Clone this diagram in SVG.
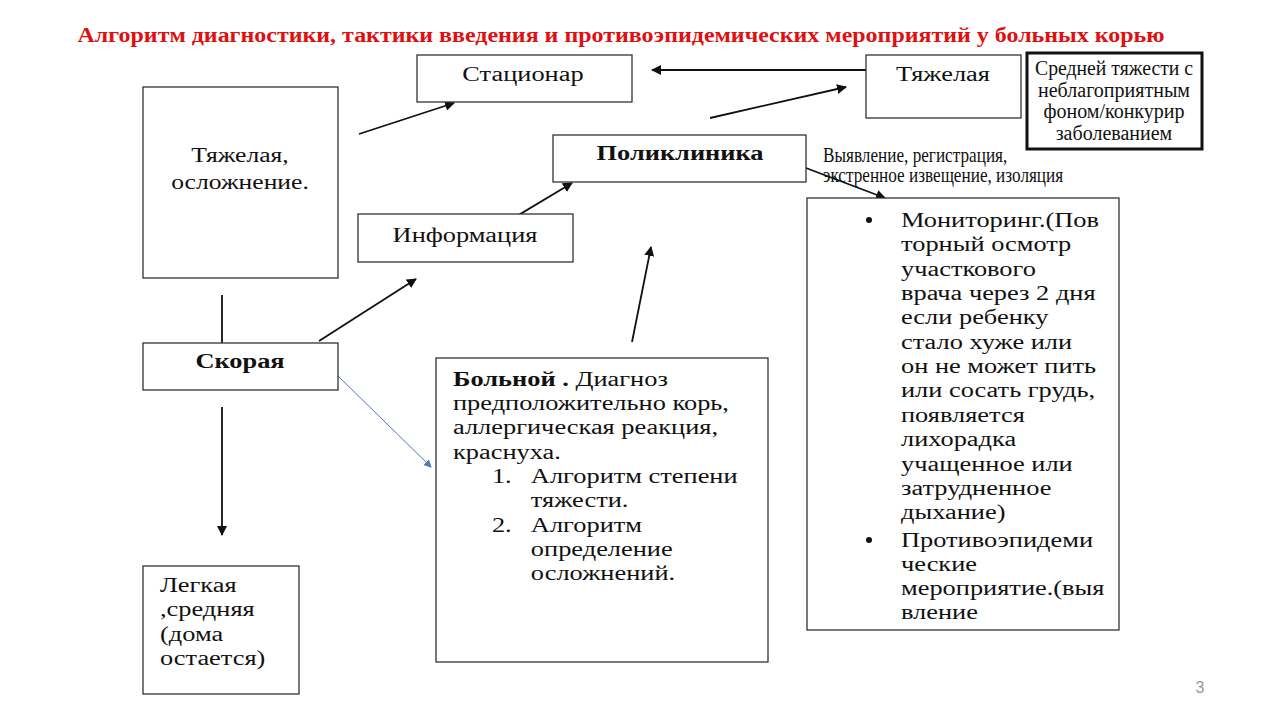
<svg xmlns="http://www.w3.org/2000/svg" width="1280" height="720" viewBox="0 0 1280 720">
<style>
.box{fill:#fff;stroke:#333;stroke-width:1.3}
.t{font-family:"Liberation Serif","Times New Roman",serif;font-size:20px;fill:#111}
.c{text-anchor:middle}
.b{font-weight:bold}
.ln{stroke:#111;stroke-width:1.8;fill:none}
</style>
<defs>
<marker id="ah" markerWidth="10" markerHeight="10" refX="9" refY="5" orient="auto" markerUnits="userSpaceOnUse" viewBox="0 0 10 10">
<path d="M0,0 L10,5 L0,10 z" fill="#111"/>
</marker>
<marker id="ahb" markerWidth="8" markerHeight="8" refX="7" refY="4" orient="auto" markerUnits="userSpaceOnUse" viewBox="0 0 8 8">
<path d="M0,0 L8,4 L0,8 z" fill="#4a78b8"/>
</marker>
</defs>
<rect width="1280" height="720" fill="#fff"/>
<text x="621" y="42" class="c b" font-family="Liberation Serif, serif" font-size="20" fill="#e01010" textLength="1087" lengthAdjust="spacingAndGlyphs">Алгоритм диагностики, тактики введения и противоэпидемических мероприятий у больных корью</text>

<g id="connectors">
<line class="ln" x1="222" y1="295" x2="222" y2="343" stroke-width="1.3"/>
<line class="ln" x1="222" y1="407" x2="222" y2="535" marker-end="url(#ah)"/>
<line class="ln" x1="359" y1="134" x2="454" y2="103" marker-end="url(#ah)"/>
<line class="ln" x1="866" y1="70" x2="652" y2="70" marker-end="url(#ah)"/>
<line class="ln" x1="710" y1="118" x2="846" y2="87" marker-end="url(#ah)"/>
<line class="ln" x1="497" y1="228" x2="572" y2="183" marker-end="url(#ah)"/>
<line class="ln" x1="319" y1="341" x2="416" y2="279" marker-end="url(#ah)"/>
<line class="ln" x1="632" y1="342" x2="651" y2="247" marker-end="url(#ah)"/>
<line x1="336" y1="374" x2="431" y2="467" stroke="#4a78b8" stroke-width="1" marker-end="url(#ahb)"/>
<line class="ln" x1="806" y1="168" x2="885" y2="198" marker-end="url(#ah)"/>
</g>

<g id="n-stacionar">
<rect class="box" x="417" y="55" width="215" height="47"/>
<g transform="translate(523 0) scale(1.32 1)"><text class="t c" x="0" y="81">Стационар</text></g>
</g>
<g id="n-tyazhelaya">
<rect class="box" x="866" y="55" width="155" height="63"/>
<g transform="translate(943 0) scale(1.32 1)"><text class="t c" x="0" y="81">Тяжелая</text></g>
</g>
<g id="n-srednei">
<rect x="1027" y="53" width="175" height="96" fill="#fff" stroke="#111" stroke-width="3"/>
<text class="t c" x="1114" y="75" font-size="16" textLength="158" lengthAdjust="spacingAndGlyphs">Средней тяжести с</text>
<text class="t c" x="1114" y="97" font-size="16">неблагоприятным</text>
<text class="t c" x="1114" y="118" font-size="16">фоном/конкурир</text>
<text class="t c" x="1114" y="140" font-size="16">заболеванием</text>
</g>
<g id="n-tyazh-osl">
<rect class="box" x="143" y="87" width="195" height="191"/>
<g transform="translate(240 0) scale(1.28 1)">
<text class="t c" x="0" y="162">Тяжелая,</text>
<text class="t c" x="0" y="189">осложнение.</text>
</g>
</g>
<g id="n-poliklinika">
<rect class="box" x="553" y="135" width="253" height="47"/>
<g transform="translate(680 0) scale(1.32 1)"><text class="t c b" x="0" y="160">Поликлиника</text></g>
</g>
<g id="l-vyyavlenie">
<g transform="translate(823 0) scale(0.86 1)">
<text class="t" x="0" y="162" font-size="12">Выявление, регистрация,</text>
<text class="t" x="0" y="182" font-size="12">экстренное извещение, изоляция</text>
</g>
</g>
<g id="n-informaciya">
<rect class="box" x="358" y="214" width="215" height="48"/>
<g transform="translate(465 0) scale(1.32 1)"><text class="t c" x="0" y="242">Информация</text></g>
</g>
<g id="n-skoraya">
<rect class="box" x="143" y="343" width="195" height="47"/>
<g transform="translate(240 0) scale(1.32 1)"><text class="t c b" x="0" y="368">Скорая</text></g>
</g>
<g id="n-bolnoi">
<rect class="box" x="436" y="358" width="332" height="304"/>
<g transform="translate(453 0) scale(1.32 1)">
<text class="t" x="0" y="386"><tspan font-weight="bold">Больной .</tspan> Диагноз</text>
<text class="t" x="0" y="410">предположительно корь,</text>
<text class="t" x="0" y="434">аллергическая реакция,</text>
<text class="t" x="0" y="459">краснуха.</text>
<text class="t" x="29.5" y="483">1.</text>
<text class="t" x="59" y="483">Алгоритм степени</text>
<text class="t" x="59" y="507">тяжести.</text>
<text class="t" x="29.5" y="532">2.</text>
<text class="t" x="59" y="532">Алгоритм</text>
<text class="t" x="59" y="556">определение</text>
<text class="t" x="59" y="580">осложнений.</text>
</g>
</g>
<g id="n-monitoring">
<rect class="box" x="807" y="198" width="312" height="432"/>
<circle cx="869" cy="220" r="3" fill="#111"/>
<circle cx="869" cy="540" r="3" fill="#111"/>
<g transform="translate(901 0) scale(1.32 1)">
<text class="t" x="0" y="227">Мониторинг.(Пов</text>
<text class="t" x="0" y="251">торный осмотр</text>
<text class="t" x="0" y="276">участкового</text>
<text class="t" x="0" y="300">врача через 2 дня</text>
<text class="t" x="0" y="324">если ребенку</text>
<text class="t" x="0" y="349">стало хуже или</text>
<text class="t" x="0" y="373">он не может пить</text>
<text class="t" x="0" y="397">или сосать грудь,</text>
<text class="t" x="0" y="422">появляется</text>
<text class="t" x="0" y="446">лихорадка</text>
<text class="t" x="0" y="471">учащенное или</text>
<text class="t" x="0" y="495">затрудненное</text>
<text class="t" x="0" y="519">дыхание)</text>
<text class="t" x="0" y="547">Противоэпидеми</text>
<text class="t" x="0" y="571">ческие</text>
<text class="t" x="0" y="595">мероприятие.(выя</text>
<text class="t" x="0" y="619">вление</text>
</g>
</g>
<g id="n-legkaya">
<rect class="box" x="143" y="566" width="156" height="128"/>
<g transform="translate(160 0) scale(1.32 1)">
<text class="t" x="0" y="592">Легкая</text>
<text class="t" x="0" y="616">,средняя</text>
<text class="t" x="0" y="641">(дома</text>
<text class="t" x="0" y="665">остается)</text>
</g>
</g>
<text x="1200" y="693" font-family="Liberation Sans, sans-serif" font-size="16" fill="#999" text-anchor="middle">3</text>
</svg>
